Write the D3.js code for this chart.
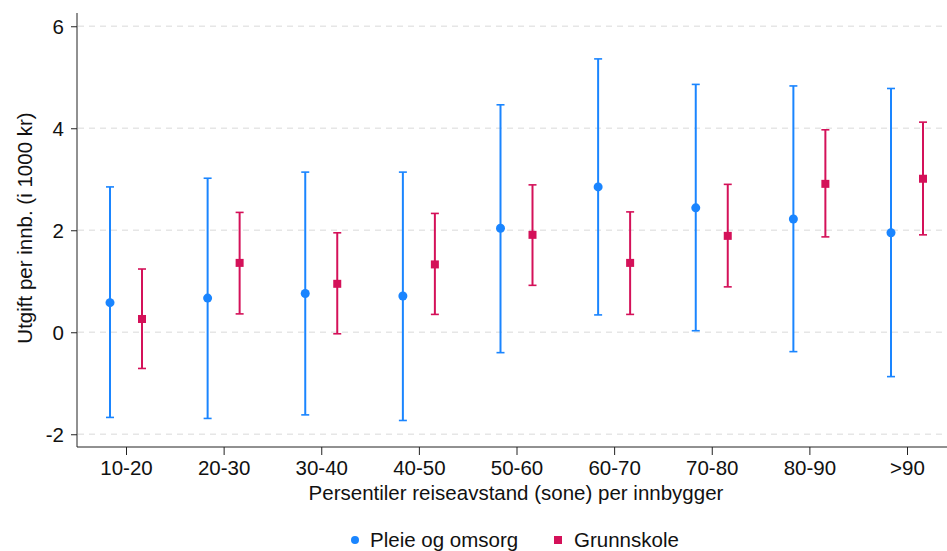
<!DOCTYPE html>
<html>
<head>
<meta charset="utf-8">
<script src="https://cdn.jsdelivr.net/npm/d3@7"></script>
<style>
  body { margin: 0; background: #fff; }
  text { font-family: "Liberation Sans", Arial, Helvetica, sans-serif; fill: #111; }
</style>
</head>
<body>
<svg width="947" height="551"></svg>
<script>
// categories and values
var categories = ["10-20", "20-30", "30-40", "40-50", "50-60", "60-70", "70-80", "80-90", ">90"];

var pleieMean = [0.58, 0.67, 0.76, 0.71, 2.04, 2.85, 2.44, 2.22, 1.95];
var pleieLow  = [-1.67, -1.69, -1.62, -1.73, -0.40, 0.34, 0.03, -0.38, -0.87];
var pleieHigh = [2.85, 3.02, 3.14, 3.14, 4.46, 5.36, 4.86, 4.83, 4.78];

var skoleMean = [0.26, 1.36, 0.95, 1.33, 1.91, 1.36, 1.89, 2.91, 3.01];
var skoleLow  = [-0.71, 0.36, -0.03, 0.35, 0.92, 0.35, 0.89, 1.87, 1.91];
var skoleHigh = [1.24, 2.35, 1.95, 2.33, 2.89, 2.36, 2.90, 3.97, 4.12];

var yTicks = [-2, 0, 2, 4, 6];

var svg = d3.select("svg"),
    width = +svg.attr("width"),
    height = +svg.attr("height");

var plot = {left: 77, right: 945, top: 13, bottom: 447};
var fontSize = "20.5px";

var blue = "#1a85ff",
    red = "#d41159";

var x = d3.scalePoint()
  .domain(categories)
  .range([126, 907]);

var y = d3.scaleLinear()
  .domain([-2.25, 6.26])
  .range([plot.bottom, plot.top]);

var offset = 16;

// gridlines
svg.append("g")
  .selectAll("line")
  .data(yTicks)
  .enter().append("line")
  .attr("x1", plot.left + 1)
  .attr("x2", width)
  .attr("y1", function(d) { return y(d); })
  .attr("y2", function(d) { return y(d); })
  .attr("stroke", "#e6e6e6")
  .attr("stroke-width", 1.5)
  .attr("stroke-dasharray", "6,5");

// y axis
var yAxis = svg.append("g")
  .attr("transform", "translate(" + plot.left + ",0)")
  .call(d3.axisLeft(y).tickValues(yTicks).tickSize(6).tickPadding(7).tickFormat(function(d) { return String(d); }));
yAxis.select(".domain").attr("d", "M0," + plot.top + "V" + plot.bottom).attr("stroke", "#222");
yAxis.selectAll(".tick line").attr("stroke", "#222");
yAxis.selectAll(".tick text").style("font-size", fontSize).attr("dy", "0.36em");

// x axis
var xAxis = svg.append("g")
  .attr("transform", "translate(0," + plot.bottom + ")")
  .call(d3.axisBottom(x).tickSize(8).tickPadding(5));
xAxis.select(".domain").attr("d", "M" + plot.left + ",0H" + width).attr("stroke", "#222");
xAxis.selectAll(".tick line").attr("stroke", "#222");
xAxis.selectAll(".tick text").style("font-size", fontSize);

// axis titles
svg.append("text")
  .attr("x", 516)
  .attr("y", 500)
  .attr("text-anchor", "middle")
  .style("font-size", fontSize)
  .text("Persentiler reiseavstand (sone) per innbygger");

svg.append("text")
  .attr("transform", "translate(32," + 228 + ") rotate(-90)")
  .attr("text-anchor", "middle")
  .style("font-size", fontSize)
  .text("Utgift per innb. (i 1000 kr)");

function drawSeries(mean, low, high, color, dx, shape) {
  var g = svg.append("g");
  var rows = categories.map(function(c, i) {
    return {cat: c, mean: mean[i], low: low[i], high: high[i]};
  });
  var grp = g.selectAll("g")
    .data(rows)
    .enter().append("g")
    .attr("transform", function(d) { return "translate(" + (x(d.cat) + dx) + ",0)"; });

  grp.append("line")
    .attr("x1", 0).attr("x2", 0)
    .attr("y1", function(d) { return y(d.low); })
    .attr("y2", function(d) { return y(d.high); })
    .attr("stroke", color)
    .attr("stroke-width", 2);

  ["low", "high"].forEach(function(k) {
    grp.append("line")
      .attr("x1", -4).attr("x2", 4)
      .attr("y1", function(d) { return y(d[k]); })
      .attr("y2", function(d) { return y(d[k]); })
      .attr("stroke", color)
      .attr("stroke-width", 1.6);
  });

  if (shape == "circle") {
    grp.append("circle")
      .attr("cy", function(d) { return y(d.mean); })
      .attr("r", 4.5)
      .attr("fill", color);
  } else {
    grp.append("rect")
      .attr("x", -4)
      .attr("y", function(d) { return y(d.mean) - 4; })
      .attr("width", 8)
      .attr("height", 8)
      .attr("fill", color);
  }
}

drawSeries(pleieMean, pleieLow, pleieHigh, blue, -offset, "circle");
drawSeries(skoleMean, skoleLow, skoleHigh, red, offset, "square");

// legend
var legend = svg.append("g");
legend.append("circle")
  .attr("cx", 355).attr("cy", 540).attr("r", 4)
  .attr("fill", blue);
legend.append("text")
  .attr("x", 370).attr("y", 547)
  .style("font-size", fontSize)
  .text("Pleie og omsorg");
legend.append("rect")
  .attr("x", 554).attr("y", 536).attr("width", 8).attr("height", 8)
  .attr("fill", red);
legend.append("text")
  .attr("x", 574).attr("y", 547)
  .style("font-size", fontSize)
  .text("Grunnskole");
</script>
</body>
</html>
